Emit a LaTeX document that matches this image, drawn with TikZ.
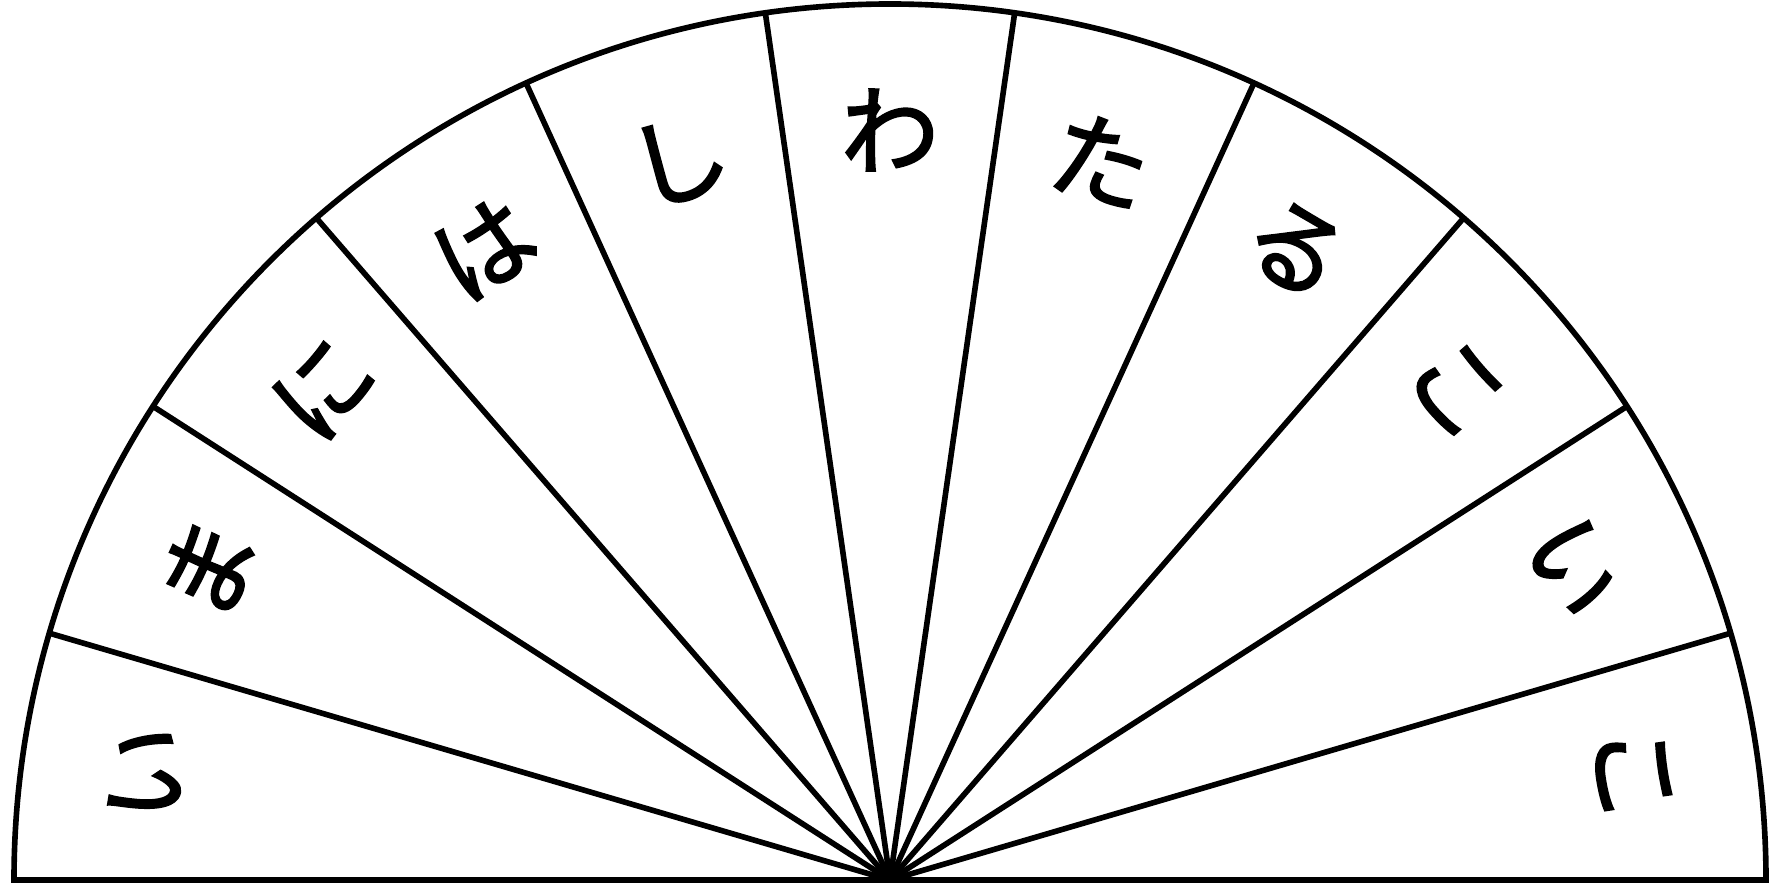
\documentclass[tikz,border=0pt]{standalone}
\usepackage{fontspec}
\usetikzlibrary{calc}
\newfontfamily\cjk[FakeBold=2]{Noto Sans CJK JP}
\begin{document}
\begin{tikzpicture}[
  rim/.style={line width=1.6pt, draw=black},
  spoke/.style={line width=1.6pt, draw=black},
  kana/.style={font=\cjk\fontsize{28}{28}\selectfont, inner sep=0pt}
]
\useasboundingbox (0,0) rectangle (17.78,8.83);
\coordinate (O) at (8.90,0.03);
\draw[rim] ([xshift=-8.76cm]O) arc[start angle=180, end angle=0, radius=8.76cm] -- cycle;
\foreach \i in {1,...,10} {
  \coordinate (p\i) at ($(O)+({180-\i*180/11}:8.76)$);
  \draw[spoke] (O) -- (p\i);
}
\foreach \ch [count=\k] in {い,ま,に,は,し,わ,た,る,こ,い,こ} {
  \pgfmathsetmacro{\ang}{180-(\k-0.5)*180/11}
  \node[kana, rotate=\ang-90] (c\k) at ($(O)+(\ang:7.5)$) {\ch};
}
\end{tikzpicture}
\end{document}
